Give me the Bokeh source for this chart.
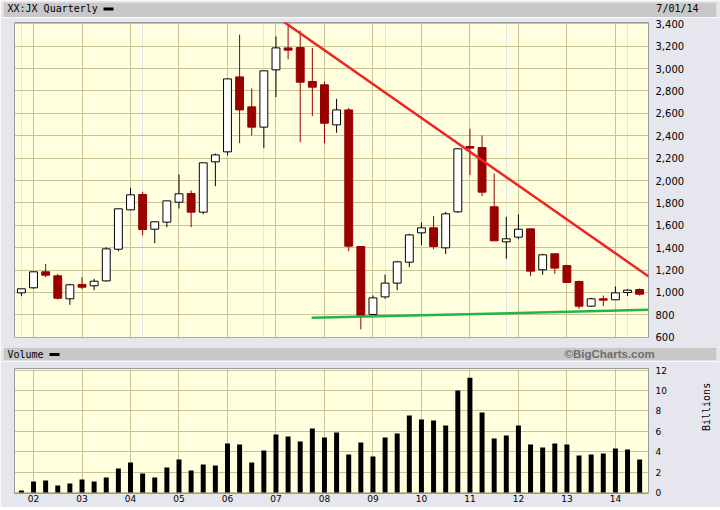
import numpy as np
from bokeh.plotting import figure
from bokeh.models import (ColumnDataSource, Range1d, FixedTicker, NumeralTickFormatter,
                          Grid, Label, BoxAnnotation)
from bokeh.layouts import column
from bokeh.embed import file_html
from bokeh.resources import INLINE

# ---------------- data ----------------
quarters = ["2001Q4"] + [f"{y}Q{q}" for y in range(2002, 2015) for q in range(1, 5)][:51]
opens = [996, 1041, 1184, 1148, 943, 1071, 1059, 1103, 1386, 1738, 1875, 1565, 1628, 1806,
         1884, 1717, 2167, 2256, 2926, 2658, 2477, 2989, 3185, 3188, 2885, 2855, 2497, 2631,
         1410, 803, 960, 1083, 1270, 1532, 1577, 1398, 1720, 2304, 2295, 1765, 1452, 1494,
         1568, 1202, 1345, 1240, 1097, 877, 943, 934, 999, 1026]
highs = [1032, 1184, 1255, 1166, 1077, 1136, 1121, 1404, 1750, 1934, 1899, 1631, 1818, 2054,
         1911, 2158, 2241, 2908, 3305, 2822, 2980, 3287, 3385, 3340, 3185, 2885, 2730, 2649,
         1410, 972, 1160, 1282, 1523, 1625, 1684, 1720, 2283, 2462, 2402, 2063, 1675, 1696,
         1568, 1345, 1345, 1246, 1106, 952, 972, 1053, 1029, 1035]
lows = [966, 1032, 1136, 937, 889, 1029, 1020, 1097, 1368, 1735, 1509, 1440, 1583, 1750,
        1583, 1699, 1949, 2226, 2334, 2402, 2289, 2745, 3084, 2343, 2575, 2334, 2426, 1368,
        669, 794, 943, 1020, 1226, 1422, 1386, 1342, 1711, 2048, 1860, 1461, 1300, 1476,
        1145, 1157, 1166, 1089, 853, 871, 877, 934, 969, 972]
closes = [1032, 1184, 1154, 948, 1068, 1047, 1100, 1389, 1747, 1872, 1562, 1631, 1818, 1881,
          1717, 2158, 2229, 2908, 2631, 2477, 2980, 3185, 3165, 2879, 2834, 2512, 2631, 1413,
          794, 951, 1083, 1273, 1514, 1577, 1410, 1702, 2283, 2289, 1896, 1461, 1479, 1565,
          1190, 1336, 1217, 1089, 877, 943, 931, 996, 1020, 984]
volume_billions = [0.2, 1.08, 1.18, 0.69, 0.88, 1.27, 1.08, 1.47, 2.35, 2.94, 1.86, 1.47,
                   2.45, 3.24, 2.16, 2.75, 2.65, 4.80, 4.71, 2.94, 4.12, 5.69, 5.49, 5.0,
                   6.27, 5.39, 5.88, 3.73, 4.90, 3.53, 5.39, 5.78, 7.55, 7.16, 7.06, 6.57,
                   10.0, 11.27, 7.84, 5.29, 5.59, 6.57, 4.71, 4.41, 4.80, 4.71, 3.63, 3.73,
                   3.82, 4.31, 4.22, 3.24]
year_labels = ["02", "03", "04", "05", "06", "07", "08", "09", "10", "11", "12", "13", "14"]
price_ticks = [600, 800, 1000, 1200, 1400, 1600, 1800, 2000, 2200, 2400, 2600, 2800, 3000,
               3200, 3400]
volume_ticks = [0, 2, 4, 6, 8, 10, 12]
resistance_x = [21.29, 51.75]
resistance_y = [3445, 1142]
support_x = [23.94, 51.8]
support_y = [773, 844]

# ---------------- styles ----------------
BG = "#e6e6ee"
HDR = "#c8c8c8"
PLOT_BG = "#ffffe0"
GRID = "#c8c392"
RED = "#990000"
W = 720
FL, FR = 14, 63          # frame borders (left / right) of the two chart panels

idx = list(range(len(quarters)))
year_ticks = [quarters.index(f"20{y}Q1") for y in year_labels]
up = [c >= o for o, c in zip(opens, closes)]
src = ColumnDataSource(dict(
    x=idx,
    top=[max(o, c) for o, c in zip(opens, closes)],
    bottom=[min(o, c) for o, c in zip(opens, closes)],
    high=highs, low=lows,
    fill=["white" if u else RED for u in up],
    line=["black" if u else RED for u in up],
))
XR = (-0.569, 51.73)

_probe = figure()
FREE = "frame_align" in _probe.properties()   # can a strip opt out of frame alignment?


def band(height, color, pad_top=0, pad_bottom=0, side_l=3, side_r=4, side_color=BG):
    # a strip whose data coordinates are pixels (x from the left, y from the frame bottom)
    if FREE:
        l, r = side_l, side_r
    else:
        l, r = FL, FR
        side_color = color
    h = figure(width=W, height=height, x_range=Range1d(l, W - r),
               y_range=Range1d(0, height - pad_top - pad_bottom),
               x_axis_location=None, y_axis_location=None, toolbar_location=None,
               output_backend="svg", title=None,
               min_border_left=l, min_border_right=r, min_border_top=pad_top,
               min_border_bottom=pad_bottom,
               background_fill_color=color, border_fill_color=side_color,
               outline_line_color=None)
    if FREE:
        h.frame_align = False
    h.grid.visible = False
    return h


def xin(x, align="left"):
    # keep texts inside the strip frame when it has to stay aligned with the charts
    if FREE:
        return x
    if align == "left":
        return max(x, FL + 1)
    return min(x, W - FR - 1)


def mono(x, y, text, align="left"):
    return Label(x=xin(x, align=align), y=y, text=text, text_font="DejaVu Sans Mono",
                 text_font_size="10px", text_baseline="middle", text_align=align,
                 text_color="black")


def dash(left, bottom, shift=0):
    return BoxAnnotation(left=left + shift, right=left + shift + 10, bottom=bottom, top=bottom + 3,
                         fill_color="black", fill_alpha=1, line_color=None)


# ---------------- top header ----------------
h1 = band(17, HDR, pad_top=2)
h1.add_layout(mono(7, 8.6, "XX:JX Quarterly"))
h1.add_layout(dash(103, 7.0, 0 if FREE else 8))
h1.add_layout(mono(698, 8.6, "7/01/14", align="right"))

# ---------------- price panel ----------------
p = figure(width=W, height=330, x_range=Range1d(*XR), y_range=Range1d(597, 3412),
           x_axis_location=None, y_axis_location="right", toolbar_location=None,
           output_backend="svg", title=None,
           min_border_left=FL, min_border_right=FR, min_border_top=5, min_border_bottom=10,
           background_fill_color=PLOT_BG, border_fill_color=BG, outline_line_color="#9a9a9a")
p.yaxis.ticker = FixedTicker(ticks=price_ticks)
p.yaxis.formatter = NumeralTickFormatter(format="0,0")
p.yaxis.major_label_text_font = "DejaVu Sans"
p.yaxis.major_label_text_font_size = "10px"
p.yaxis.major_label_text_color = "black"
p.yaxis.major_label_standoff = 7
p.yaxis.major_tick_out = 0
p.yaxis.major_tick_in = 0
p.yaxis.minor_tick_out = 0
p.yaxis.minor_tick_in = 0
p.yaxis.axis_line_color = None
p.ygrid.grid_line_color = GRID
p.add_layout(Grid(dimension=0, ticker=FixedTicker(ticks=year_ticks), grid_line_color=GRID))

p.segment(x0="x", y0="low", x1="x", y1="high", line_color="line", line_width=1, source=src)
p.vbar(x="x", top="top", bottom="bottom", width=0.65, fill_color="fill", line_color="line",
       line_width=1, source=src)
p.line(resistance_x, resistance_y, line_color="#ee2424", line_width=2.5)
p.line(support_x, support_y, line_color="#25b34a", line_width=2.5)

# ---------------- volume header ----------------
h2 = band(14, HDR, pad_bottom=1)
h2.add_layout(mono(7, 6.3, "Volume"))
h2.add_layout(dash(49, 4.6, 0 if FREE else 8))
h2.add_layout(Label(x=564, y=6.3, text="\u00a9BigCharts.com", text_font="Liberation Sans",
                    text_font_size="11.5px", text_font_style="bold", text_baseline="middle",
                    text_align="left", text_color="#6e6e6e"))

# ---------------- volume panel ----------------
v = figure(width=W, height=146, x_range=Range1d(*XR), y_range=Range1d(-0.1, 12.17),
           y_axis_location="right", toolbar_location=None, output_backend="svg", title=None,
           min_border_left=FL, min_border_right=FR, min_border_top=7, min_border_bottom=14,
           background_fill_color=PLOT_BG, border_fill_color=BG, outline_line_color="#9a9a9a")
v.vbar(x=idx, top=volume_billions, bottom=0, width=0.41, fill_color="black", line_color=None)
v.yaxis.ticker = FixedTicker(ticks=volume_ticks)
v.xaxis.ticker = FixedTicker(ticks=year_ticks)
v.xaxis.major_label_overrides = {t: lab for t, lab in zip(year_ticks, year_labels)}
for ax in (v.xaxis, v.yaxis):
    ax.major_label_text_font = "DejaVu Sans"
    ax.major_label_text_font_size = "9px"
    ax.major_label_text_color = "black"
    ax.major_tick_out = 0
    ax.major_tick_in = 0
    ax.minor_tick_out = 0
    ax.minor_tick_in = 0
    ax.axis_line_color = None
v.yaxis.major_label_standoff = 7
v.xaxis.major_label_standoff = 1
v.yaxis.axis_label = "Billions"
v.yaxis.axis_label_text_font = "DejaVu Sans Mono"
v.yaxis.axis_label_text_font_size = "10px"
v.yaxis.axis_label_text_font_style = "normal"
v.yaxis.axis_label_text_color = "black"
v.yaxis.axis_label_standoff = 37
if "axis_label_orientation" in v.yaxis[0].properties():
    v.yaxis.axis_label_orientation = np.pi / 2
v.xgrid.ticker = FixedTicker(ticks=year_ticks)
v.grid.grid_line_color = GRID

# bottom edge line of the chart
foot = band(3, "#7c7c7c", pad_top=1, side_l=0, side_r=0)

layout = column(h1, p, h2, v, foot, spacing=0)
open("out.html", "w").write(file_html(layout, INLINE))
